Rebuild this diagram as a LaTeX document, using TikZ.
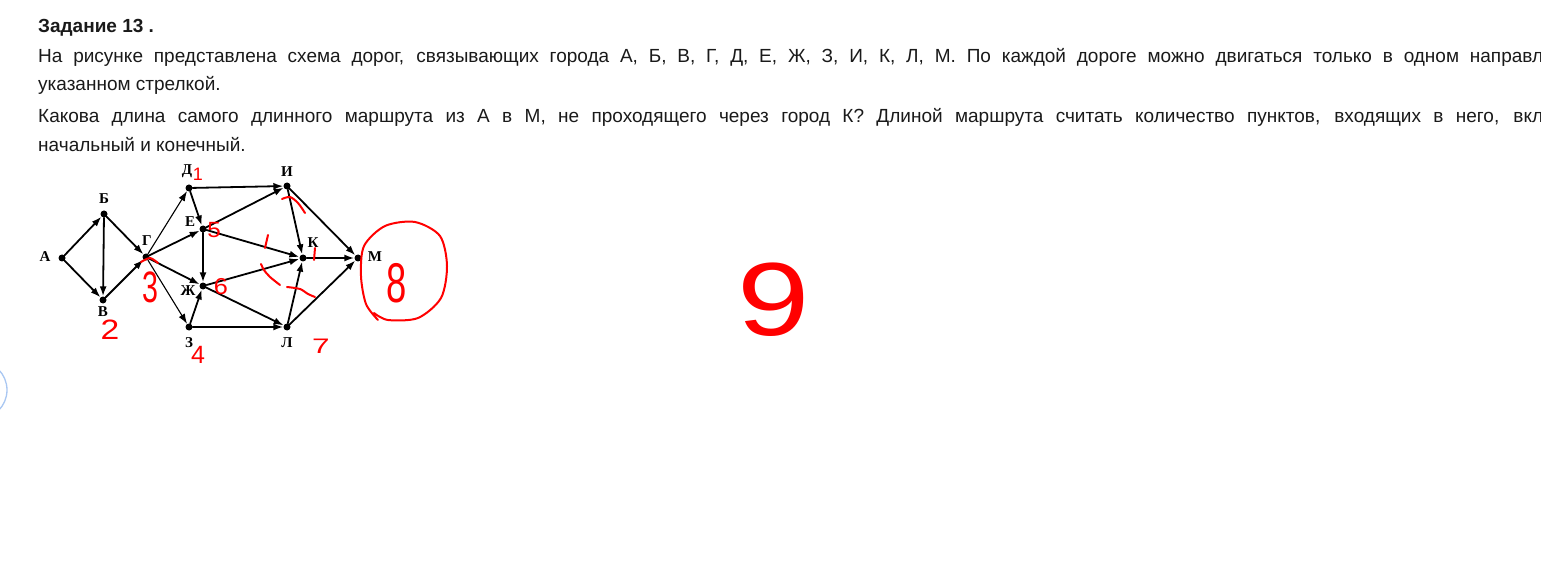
\documentclass[tikz,border=0pt]{standalone}
\usepackage{fontspec}
\newfontfamily\uifont{Liberation Sans}
\newfontfamily\townfont{Liberation Serif}
\usetikzlibrary{arrows.meta}

\begin{document}
\begin{tikzpicture}[
    x=1pt,
    y=-1pt,
    line cap=round,
    line join=round,
]
\definecolor{penRed}{HTML}{FF0000}
\definecolor{uiBlue}{HTML}{A9C7F2}
\definecolor{uiText}{HTML}{1A1A1A}

\tikzset{
    town/.style={circle,fill=black,inner sep=0pt,minimum size=7pt},
    townname/.style={font=\townfont\bfseries\fontsize{15}{15}\selectfont,inner sep=0pt},
    road/.style={draw=black,line width=1.8pt,-{Latex[length=10pt,width=7pt]}},
    thinroad/.style={road,line width=1.1pt},
    task/.style={font=\uifont\fontsize{19}{19}\selectfont,text=uiText,anchor=base west,inner sep=0pt},
    pen/.style={draw=penRed,line width=2pt},
    pendigit/.style={text=penRed,font=\uifont\fontsize{#1}{#1}\selectfont,inner sep=0pt},
}

\useasboundingbox (0,0) rectangle (1541,585);
\fill[white] (0,0) rectangle (1541,585);
\clip (0,0) rectangle (1541,585);

\node[task,font=\uifont\bfseries\fontsize{19}{19}\selectfont] (title) at (38,33) {Задание 13 .};
\node[task] (line1) at (38,63) {\makebox[1505pt][s]{На рисунке представлена схема дорог, связывающих города А, Б, В, Г, Д, Е, Ж, З, И, К, Л, М. По каждой дороге можно двигаться только в одном направл}};
\node[task] (line2) at (38,91) {указанном стрелкой.};
\node[task] (line3) at (38,123) {\makebox[1505pt][s]{Какова длина самого длинного маршрута из А в М, не проходящего через город К? Длиной маршрута считать количество пунктов, входящих в него, вкл}};
\node[task] (line4) at (38,152) {начальный и конечный.};

\node[town] (a) at (62,258) {};
\node[town] (b) at (104,214) {};
\node[town] (v) at (103,300) {};
\node[town] (g) at (146,257) {};
\node[town] (d) at (189,188) {};
\node[town] (e) at (203,229) {};
\node[town] (zh) at (203,286) {};
\node[town] (z) at (189,327) {};
\node[town] (i) at (287,186) {};
\node[town] (k) at (303,258) {};
\node[town] (l) at (287,327) {};
\node[town] (m) at (358,258) {};

\node[townname] (an) at (45,257) {А};
\node[townname] (bn) at (104,199) {Б};
\node[townname] (vn) at (103,312) {В};
\node[townname] (gn) at (147,241) {Г};
\node[townname] (dn) at (187,171) {Д};
\node[townname] (en) at (190,222) {Е};
\node[townname] (zhn) at (188,291) {Ж};
\node[townname] (zn) at (189,343) {З};
\node[townname] (in) at (287,172) {И};
\node[townname] (kn) at (313,243) {К};
\node[townname] (ln) at (287,343) {Л};
\node[townname] (mn) at (375,257) {М};

\foreach \s/\t in {a/b,a/v,b/v,b/g,v/g,g/e,g/zh,d/e,d/i,e/i,e/k,e/zh,zh/k,zh/l,z/zh,z/l,i/k,i/m,l/k,l/m,k/m} {
    \draw[road] (\s) -- (\t);
}
\draw[thinroad] (g) -- (d);
\draw[thinroad] (g) -- (z);

\draw[draw=uiBlue,line width=1.3pt] (-22,390) circle (29);

\node[pendigit=18] (n1) at (198,174) {1};
\node[pendigit=28,xscale=1.2] (n2) at (110,330) {2};
\node[pendigit=44,xscale=0.65] (n3) at (150,287) {3};
\node[pendigit=25] (n4) at (198,355) {4};
\node[pendigit=22,xscale=1.1] (n5) at (214,230) {5};
\node[pendigit=23,xscale=1.1] (n6) at (221,287) {6};
\node[pendigit=21,xscale=1.5] (n7) at (321,346) {7};
\node[pendigit=56,xscale=0.65] (n8) at (397,283) {8};
\node[pendigit=104,xscale=1.25] (n9) at (774,300) {9};

\draw[pen] plot[smooth] coordinates {(141,262) (150,258) (158,263)};
\draw[pen] plot[smooth] coordinates {(282,199) (290,197) (298,203) (305,213)};
\draw[pen] (268,235) -- (265,248);
\draw[pen] (315,248) -- (314,260);
\draw[pen] plot[smooth] coordinates {(261,264) (264,270) (270,277) (280,285)};
\draw[pen] plot[smooth] coordinates {(287,287) (300,289) (308,294) (315,297)};
\draw[pen] plot[smooth] coordinates {(378,320) (366,304) (361,276) (364,246) (385,226) (415,222) (440,236) (447,266) (441,298) (418,318) (388,320) (374,313)};
\end{tikzpicture}
\end{document}
